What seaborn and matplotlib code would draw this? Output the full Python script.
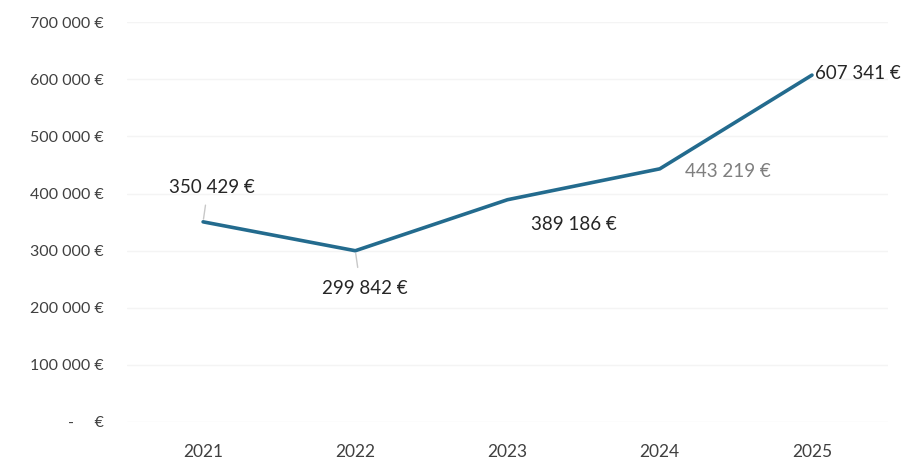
import matplotlib
matplotlib.use("Agg")
import matplotlib.pyplot as plt
import seaborn as sns
import pandas as pd
from matplotlib.ticker import FuncFormatter

years = ["2021", "2022", "2023", "2024", "2025"]
values = [350429, 299842, 389186, 443219, 607341]
label_texts = ["350 429 €", "299 842 €", "389 186 €", "443 219 €", "607 341 €"]
yticks = [0, 100000, 200000, 300000, 400000, 500000, 600000, 700000]

sns.set_theme(style="white")
plt.rcParams['font.family'] = ['Lato', 'DejaVu Sans']

df = pd.DataFrame({"year": years, "value": values})

fig = plt.figure(figsize=(9.09, 4.62), dpi=100)
ax = fig.add_axes([0.1397, 0.0866, 0.977 - 0.1397, 0.952 - 0.0866])

sns.lineplot(data=df, x="year", y="value", ax=ax, color="#236b8e", linewidth=2.6, sort=False)

ax.set_xlim(-0.5, len(years) - 0.5)
ax.set_ylim(0, 700000)
ax.set_yticks(yticks)

def fmt(v, pos):
    if v == 0:
        return "-     €"
    s = f"{int(v):,}".replace(",", " ")
    return s + " €"

ax.yaxis.set_major_formatter(FuncFormatter(fmt))
ax.grid(axis="y", color="#f4f4f4", linewidth=1)
ax.set_axisbelow(True)
for sp in ax.spines.values():
    sp.set_visible(False)
ax.set_xlabel("")
ax.set_ylabel("")
ax.tick_params(axis="y", labelsize=11.5, labelcolor="#404040", pad=17, length=0)
ax.tick_params(axis="x", labelsize=12.5, labelcolor="#404040", pad=16, length=0)

# data labels (offsets in points)
offsets = [(6.5, 25), (6.5, -27), (47.5, -18), (18, -2), (2, 1)]
has = ["center", "center", "center", "left", "left"]
colors = ["#262626", "#262626", "#262626", "#7f7f7f", "#262626"]
for i, (y, t) in enumerate(zip(values, label_texts)):
    ax.annotate(t, (i, y), xytext=offsets[i], textcoords="offset points",
                ha=has[i], va="center", fontsize=13.5, color=colors[i])

# leader lines
ax.annotate("", (0, values[0]), xytext=(2, 14), textcoords="offset points",
            arrowprops=dict(arrowstyle="-", color="#c8c8c8", lw=1))
ax.annotate("", (1, values[1]), xytext=(2, -14), textcoords="offset points",
            arrowprops=dict(arrowstyle="-", color="#c8c8c8", lw=1))

fig.savefig("out.png", dpi=100)
